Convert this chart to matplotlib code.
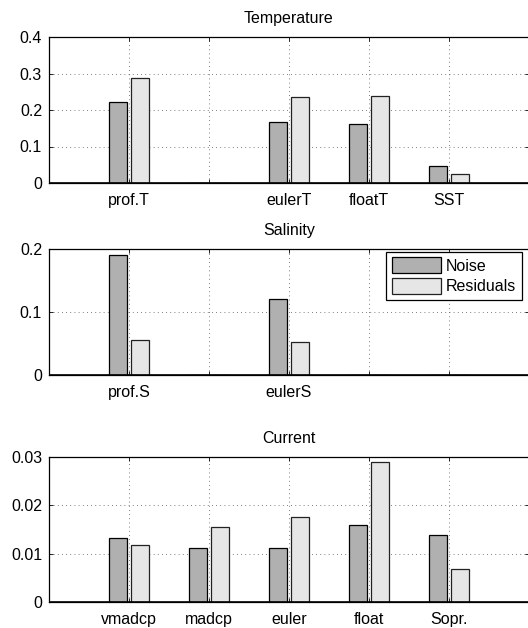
import numpy as np
import matplotlib.pyplot as plt

plt.rcParams.update({
    "font.family": ["Liberation Sans", "DejaVu Sans"],
    "font.size": 11.5,
    "xtick.direction": "in",
    "ytick.direction": "in",
    "xtick.major.size": 3,
    "ytick.major.size": 3,
})

# --- data ---
temp_labels = ["prof.T", "", "eulerT", "floatT", "SST"]
temp_noise = [0.221, 0.0, 0.166, 0.163, 0.046]
temp_resid = [0.287, 0.0, 0.236, 0.239, 0.024]

sal_labels = ["prof.S", "", "eulerS", "", ""]
sal_noise = [0.190, 0.0, 0.120, 0.0, 0.0]
sal_resid = [0.0556, 0.0, 0.053, 0.0, 0.0]

cur_labels = ["vmadcp", "madcp", "euler", "float", "Sopr."]
cur_noise = [0.0133, 0.01125, 0.01125, 0.0159, 0.0139]
cur_resid = [0.0118, 0.0156, 0.0175, 0.0290, 0.0068]

panels = [
    ("Temperature", temp_labels, temp_noise, temp_resid, 0.4, [0, 0.1, 0.2, 0.3, 0.4], ["0", "0.1", "0.2", "0.3", "0.4"]),
    ("Salinity", sal_labels, sal_noise, sal_resid, 0.2, [0, 0.1, 0.2], ["0", "0.1", "0.2"]),
    ("Current", cur_labels, cur_noise, cur_resid, 0.03, [0, 0.01, 0.02, 0.03], ["0", "0.01", "0.02", "0.03"]),
]

W, H = 528, 628
fig = plt.figure(figsize=(W / 100, H / 100), dpi=100)

# axes boxes in pixels: (left, top, right, bottom)
boxes = [(49, 37, 529, 183), (49, 249, 529, 375), (49, 457, 529, 602)]

noise_c = "#b0b0b0"
resid_c = "#e6e6e6"
bw = 0.225
off = 0.1375

for (title, labels, noise, resid, ymax, yt, ytl), (l, t, r, b) in zip(panels, boxes):
    ax = fig.add_axes([l / W, 1 - b / H, (r - l) / W, (b - t) / H])
    x = np.arange(1, len(labels) + 1)
    ax.bar(x - off, noise, bw, color=noise_c, edgecolor="black", linewidth=0.9,
           label="Noise", zorder=3)
    ax.bar(x + off, resid, bw, color=resid_c, edgecolor="#222222", linewidth=0.9,
           label="Residuals", zorder=3)
    ax.axhline(0, color="black", linewidth=1.2, zorder=4)
    ax.set_xlim(0, 6)
    ax.set_ylim(0, ymax)
    ax.set_xticks(x)
    ax.set_xticklabels(labels)
    ax.set_yticks(yt)
    ax.set_yticklabels(ytl)
    ax.tick_params(top=True, right=True, length=3, width=0.6)
    ax.tick_params(axis="x", pad=7)
    ax.tick_params(axis="y", pad=5)
    ax.grid(True, linestyle=(0, (1, 4)), color="#555555", linewidth=0.6, zorder=0)
    ax.set_title(title, fontsize=11.5, pad=10)
    for s in ax.spines.values():
        s.set_linewidth(0.9)
    if title == "Salinity":
        leg = ax.legend(loc="upper right", bbox_to_anchor=(1 - 7 / 480, 0.98),
                        fancybox=False, framealpha=1, edgecolor="black",
                        handlelength=3.1, handleheight=1.2, handletextpad=0.3,
                        borderpad=0.35, labelspacing=0.25, borderaxespad=0)
        leg.get_frame().set_linewidth(0.9)

fig.savefig("out.png", dpi=100)
